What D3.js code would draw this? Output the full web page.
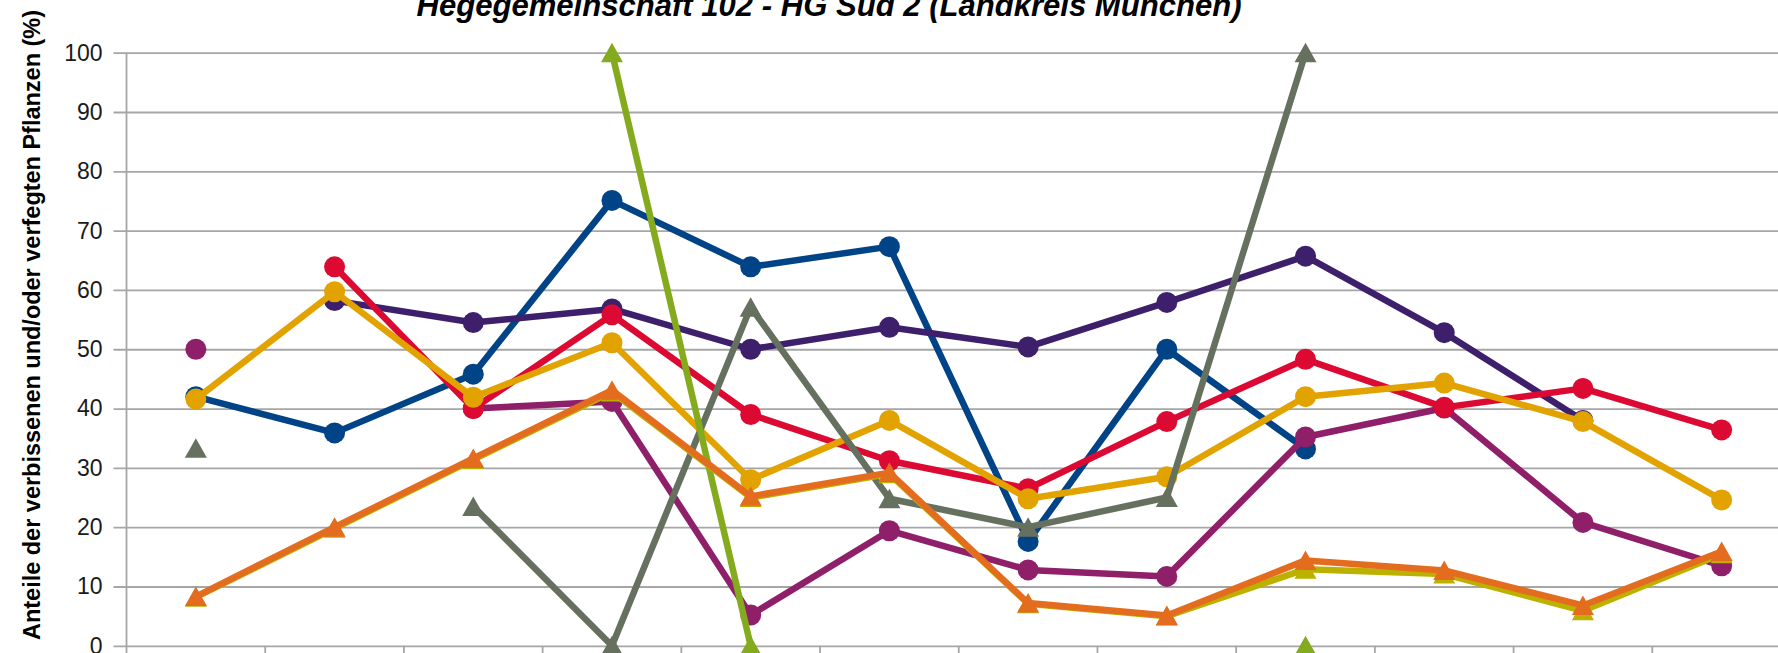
<!DOCTYPE html>
<html>
<head>
<meta charset="utf-8">
<script src="https://cdn.jsdelivr.net/npm/d3@7"></script>
<style>
  html, body { margin: 0; padding: 0; background: #fff; overflow: hidden; }
  svg { display: block; }
</style>
</head>
<body>
<div id="chart"></div>
<script>
// data (x labels are cut off in the reference)
var categories = ['1', '2', '3', '4', '5', '6', '7', '8', '9', '10', '11', '12'];
var yTicks = [0, 10, 20, 30, 40, 50, 60, 70, 80, 90, 100];

var blueVals    = [42.0, 35.9, 45.8, 75.1, 63.9, 67.3, 17.6, 50.0, 33.2, null, null, null];
var indigoVals  = [null, 58.2, 54.5, 56.8, 50.0, 53.7, 50.4, 57.9, 65.7, 52.8, 38.0, null];
var magentaVals = [50.0, null, 40.0, 41.2, 5.2, 19.4, 12.8, 11.7, 35.2, 40.1, 20.8, 13.5];
var redVals     = [null, 63.9, 40.0, 55.8, 39.0, 31.2, 26.5, 37.8, 48.3, 40.2, 43.4, 36.4];
var goldVals    = [41.6, 59.7, 41.9, 51.1, 28.0, 38.0, 24.8, 28.5, 42.0, 44.3, 37.8, 24.6];
var greyVals    = [33.3, null, 23.5, 0, 57.1, 24.8, 20.0, 25.0, 100, null, null, null];
var greenVals   = [null, null, null, 100, 0, null, null, null, 0, null, null, null];
var oliveVals   = [8.2, 19.8, 31.4, 42.8, 25.0, 29.0, 7.1, 5.0, 12.9, 12.1, 5.9, 15.5];
var orangeVals  = [8.3, 20.0, 31.6, 43.1, 25.2, 29.2, 7.2, 5.1, 14.4, 12.7, 6.8, 15.9];

var series = [
  { values: blueVals,    color: '#004387', marker: 'circle' },
  { values: indigoVals,  color: '#3d1f6b', marker: 'circle' },
  { values: magentaVals, color: '#8f1f69', marker: 'circle' },
  { values: redVals,     color: '#dc0a32', marker: 'circle' },
  { values: goldVals,    color: '#e2a300', marker: 'circle' },
  { values: greyVals,    color: '#66705f', marker: 'triangle' },
  { values: greenVals,   color: '#84aa1e', marker: 'triangle' },
  { values: oliveVals,   color: '#bdb100', marker: 'triangle' },
  { values: orangeVals,  color: '#e46c1e', marker: 'triangle' }
];

var width = 1778, height = 653;
var svg = d3.select('#chart').append('svg')
    .attr('width', width).attr('height', height);

// plot area runs past the right edge, like the cropped original
var x = d3.scaleBand().domain(categories).range([126.5, 1791]);
var y = d3.scaleLinear().domain([0, 100]).range([645.8, 52.7]);

// gridlines + y ticks
var yAxis = d3.axisLeft(y).tickValues(yTicks).tickSize(-(1791 - 126.5)).tickPadding(24);
var gy = svg.append('g').attr('transform', 'translate(126.5,0)').call(yAxis);
gy.select('.domain').remove();
gy.selectAll('.tick line').attr('stroke', '#a6a6a6').attr('stroke-width', 1.8).attr('x1', -13);
gy.selectAll('.tick text')
    .attr('fill', '#1a1a1a')
    .style('font-family', '"Liberation Sans", Arial, sans-serif')
    .style('font-size', '23px');

// vertical axis line
svg.append('line')
    .attr('x1', 126.5).attr('x2', 126.5)
    .attr('y1', y(100)).attr('y2', height)
    .attr('stroke', '#a6a6a6').attr('stroke-width', 1.8);

// category boundary ticks on the bottom axis
var bounds = categories.map(function(c) { return x(c); });
svg.selectAll('line.xtick').data(bounds.slice(1).concat([x(categories[11]) + x.bandwidth()]))
  .enter().append('line')
    .attr('class', 'xtick')
    .attr('x1', function(d) { return d; }).attr('x2', function(d) { return d; })
    .attr('y1', y(0)).attr('y2', y(0) + 12)
    .attr('stroke', '#a6a6a6').attr('stroke-width', 1.8);

var line = d3.line()
    .defined(function(d) { return d != null; })
    .x(function(d, i) { return x(categories[i]) + x.bandwidth() / 2; })
    .y(function(d) { return y(d); });

var tri = 'M0,-10L11,9.5L-11,9.5Z';

series.forEach(function(s) {
  var g = svg.append('g');
  g.append('path')
      .attr('d', line(s.values))
      .attr('fill', 'none')
      .attr('stroke', s.color)
      .attr('stroke-width', 6.5)
      .attr('stroke-linejoin', 'round');

  var pts = s.values.map(function(v, i) { return { v: v, c: categories[i] }; })
      .filter(function(p) { return p.v != null; });

  if (s.marker === 'circle') {
    g.selectAll('circle').data(pts).enter().append('circle')
        .attr('cx', function(p) { return x(p.c) + x.bandwidth() / 2; })
        .attr('cy', function(p) { return y(p.v); })
        .attr('r', 10.5)
        .attr('fill', s.color);
  } else {
    g.selectAll('path.m').data(pts).enter().append('path')
        .attr('class', 'm')
        .attr('d', tri)
        .attr('transform', function(p) {
          return 'translate(' + (x(p.c) + x.bandwidth() / 2) + ',' + y(p.v) + ')';
        })
        .attr('fill', s.color);
  }
});

// title (top is cut off in the reference)
svg.append('text')
    .attr('x', 829).attr('y', 16)
    .attr('text-anchor', 'middle')
    .attr('textLength', 825).attr('lengthAdjust', 'spacingAndGlyphs')
    .style('font-family', '"Liberation Sans", Arial, sans-serif')
    .style('font-weight', 'bold').style('font-style', 'italic')
    .style('font-size', '31px')
    .attr('fill', '#000')
    .text('Hegegemeinschaft 102 - HG Süd 2 (Landkreis München)');

// y axis title
svg.append('text')
    .attr('transform', 'translate(32,325) rotate(-90)')
    .attr('text-anchor', 'middle')
    .attr('dominant-baseline', 'central')
    .attr('textLength', 630).attr('lengthAdjust', 'spacingAndGlyphs')
    .style('font-family', '"Liberation Sans", Arial, sans-serif')
    .style('font-weight', 'bold')
    .style('font-size', '23px')
    .attr('fill', '#000')
    .text('Anteile der verbissenen und/oder verfegten Pflanzen (%)');
</script>
</body>
</html>
